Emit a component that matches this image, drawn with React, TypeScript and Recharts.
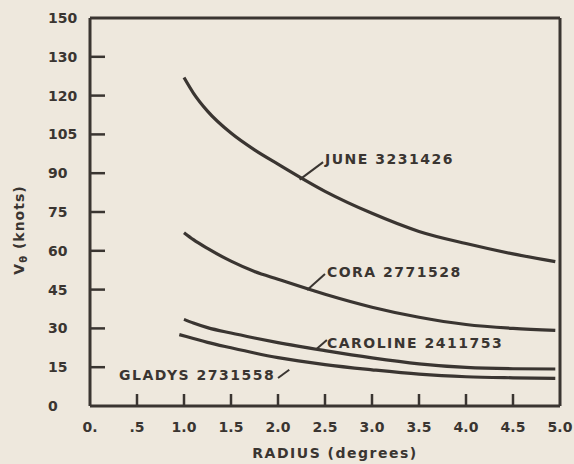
import React from "react";
import {
  LineChart,
  Line,
  XAxis,
  YAxis,
  ReferenceLine,
  ReferenceDot,
} from "recharts";

// radius (degrees) at which each curve was read
const radii = [1.0, 1.1, 1.25, 1.5, 1.75, 2.0, 2.5, 3.0, 3.5, 4.0, 4.5, 4.95];
const gladysRadii = [0.95, 1.1, 1.25, 1.5, 1.75, 2.0, 2.5, 3.0, 3.5, 4.0, 4.5, 4.95];

// V_theta (knots)
const june = [127, 121, 114, 105.5, 99, 93.5, 83, 74.5, 67.5, 62.8, 58.8, 55.8];
const cora = [67, 64.3, 60.9, 56, 52, 49, 43.2, 38.2, 34.3, 31.5, 30, 29.2];
const caroline = [33.5, 32.1, 30.3, 28.2, 26.3, 24.5, 21.4, 18.6, 16.3, 14.9, 14.4, 14.3];
const gladys = [27.6, 26.1, 24.6, 22.5, 20.5, 18.7, 16, 14, 12.3, 11.3, 10.9, 10.7];

const xTicks = [0, 0.5, 1, 1.5, 2, 2.5, 3, 3.5, 4, 4.5, 5];
const yTicks = [0, 15, 30, 45, 60, 75, 90, 105, 120, 135, 150];
// the original figure prints "130" where 135 belongs
const yTickLabels = ["0", "15", "30", "45", "60", "75", "90", "105", "120", "130", "150"];

// storm labels: text anchor point and leader line (data coords)
const stormLabels = [
  { name: "JUNE 3231426", at: [2.5, 95.5], lead: [[2.23, 87.5], [2.48, 94.3]], anchor: "start" },
  { name: "CORA 2771528", at: [2.52, 51.8], lead: [[2.31, 44.8], [2.5, 51]], anchor: "start" },
  { name: "CAROLINE 2411753", at: [2.52, 24.4], lead: [[2.41, 22], [2.52, 25.5]], anchor: "start" },
  { name: "GLADYS 2731558", at: [1.97, 12], lead: [[2.0, 10.8], [2.12, 14]], anchor: "end" },
];

const toRows = (xs: number[], ys: number[]) => xs.map((r, i) => ({ r, v: ys[i] }));

const ink = "#3a3531";
const paper = "#eee8dd";
const font = "'DejaVu Sans', sans-serif";

const xFmt = (val: number) => (val === 0 ? "0." : val === 0.5 ? ".5" : val.toFixed(1));

// ticks point into the plot, like the original
const XTick = (props: any) => {
  const { x, y, payload } = props;
  const val = payload.value;
  const inner = val > 0 && val < 5;
  return (
    <g>
      {inner && <line x1={x} y1={y} x2={x} y2={y - 12} stroke={ink} strokeWidth={2.5} />}
      <text x={x} y={y + 26} textAnchor="middle" fill={ink} fontFamily={font} fontWeight="bold" fontSize={14}>
        {xFmt(val)}
      </text>
    </g>
  );
};

const YTick = (props: any) => {
  const { x, y, payload } = props;
  const val = payload.value;
  const inner = val > 0 && val < 150;
  return (
    <g>
      {inner && <line x1={x} y1={y} x2={x + 15} y2={y} stroke={ink} strokeWidth={2.5} />}
      <text x={x - 42} y={y + 5} textAnchor="start" fill={ink} fontFamily={font} fontWeight="bold" fontSize={14}>
        {yTickLabels[yTicks.indexOf(val)]}
      </text>
    </g>
  );
};

export default function App() {
  const series = [
    { key: "june", data: toRows(radii, june) },
    { key: "cora", data: toRows(radii, cora) },
    { key: "caroline", data: toRows(radii, caroline) },
    { key: "gladys", data: toRows(gladysRadii, gladys) },
  ];

  return (
    <div style={{ position: "fixed", left: 0, top: 0, width: 574, height: 464, background: paper }}>
      <LineChart width={574} height={464} margin={{ top: 18, right: 14, left: 0, bottom: 0 }}>
        <XAxis
          dataKey="r"
          type="number"
          domain={[0, 5]}
          ticks={xTicks}
          height={58}
          tickSize={0}
          tickMargin={0}
          tickLine={false}
          tick={<XTick />}
          axisLine={{ stroke: ink, strokeWidth: 3 }}
          label={{
            value: "RADIUS (degrees)",
            position: "insideBottom",
            offset: 6,
            fill: ink,
            fontFamily: font,
            fontWeight: "bold",
            fontSize: 14,
            letterSpacing: 1.5,
            dx: 10,
          }}
        />
        <YAxis
          type="number"
          domain={[0, 150]}
          ticks={yTicks}
          width={90}
          tickSize={0}
          tickMargin={0}
          tickLine={false}
          tick={<YTick />}
          axisLine={{ stroke: ink, strokeWidth: 3 }}
          label={(p: any) => {
            const vb = p.viewBox;
            const cx = 19;
            const cy = vb.y + vb.height / 2 + 18;
            return (
              <text
                x={cx}
                y={cy}
                transform={`rotate(-90 ${cx} ${cy})`}
                textAnchor="middle"
                dominantBaseline="central"
                fill={ink}
                fontFamily={font}
                fontWeight="bold"
                fontSize={14}
                letterSpacing={1}
              >
                V<tspan fontSize={10} dy={4}>θ</tspan>
                <tspan dy={-4}> (knots)</tspan>
              </text>
            );
          }}
        />
        <ReferenceLine y={150} stroke={ink} strokeWidth={3} ifOverflow="visible" />
        <ReferenceLine x={5} stroke={ink} strokeWidth={3} ifOverflow="visible" />

        {series.map((s) => (
          <Line
            key={s.key}
            data={s.data}
            dataKey="v"
            type="monotone"
            stroke={ink}
            strokeWidth={3.2}
            dot={false}
            activeDot={false}
            isAnimationActive={false}
          />
        ))}

        {stormLabels.map((l) => (
          <ReferenceLine
            key={l.name + "-lead"}
            segment={[
              { x: l.lead[0][0], y: l.lead[0][1] },
              { x: l.lead[1][0], y: l.lead[1][1] },
            ]}
            stroke={ink}
            strokeWidth={2}
          />
        ))}
        {stormLabels.map((l) => (
          <ReferenceDot
            key={l.name}
            x={l.at[0]}
            y={l.at[1]}
            r={0}
            stroke="none"
            fill="none"
            label={(p: any) => (
              <text
                x={p.viewBox.x}
                y={p.viewBox.y + 5}
                textAnchor={l.anchor}
                fill={ink}
                fontFamily={font}
                fontWeight="bold"
                fontSize={14}
                letterSpacing={1.5}
              >
                {l.name}
              </text>
            )}
          />
        ))}
      </LineChart>
    </div>
  );
}
